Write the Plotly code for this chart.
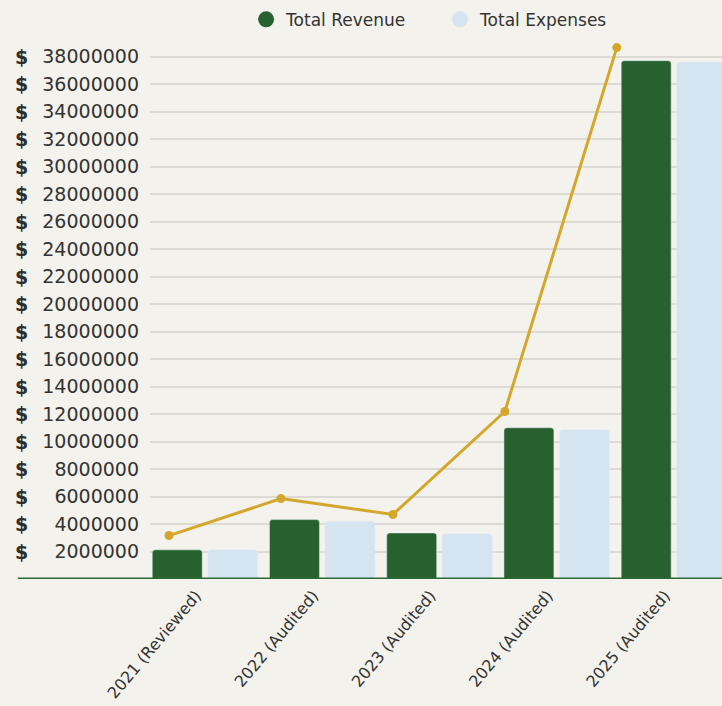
import plotly.graph_objects as go

categories = ["2021 (Reviewed)", "2022 (Audited)", "2023 (Audited)", "2024 (Audited)", "2025 (Audited)"]
total_revenue = [2.12e6, 4.32e6, 3.35e6, 11.0e6, 37.7e6]
total_expenses = [2.12e6, 4.2e6, 3.3e6, 10.85e6, 37.6e6]
trend_values = [3.16e6, 5.85e6, 4.69e6, 12.18e6, 38.65e6]
tick_values = [2e6 * i for i in range(1, 20)]
tick_labels = [str(int(v)) for v in tick_values]

GREEN = "#27612f"
BLUE = "#d4e4f0"
GOLD = "#d4a72c"
BG = "#f4f2ec"
TEXT = "#333333"
FONT = "DejaVu Sans"

fig = go.Figure()
fig.add_trace(go.Bar(x=categories, y=total_revenue, name="Total Revenue",
                     marker=dict(color=GREEN), showlegend=False))
fig.add_trace(go.Bar(x=categories, y=total_expenses, name="Total Expenses",
                     marker=dict(color=BLUE), showlegend=False))
fig.add_trace(go.Scatter(x=categories, y=trend_values, mode="lines+markers",
                         xaxis="x2", line=dict(color=GOLD, width=3),
                         marker=dict(color=GOLD, size=9), showlegend=False,
                         cliponaxis=False))
# legend entries (circle symbols)
fig.add_trace(go.Scatter(x=[None], y=[None], mode="markers", name="Total Revenue",
                         marker=dict(color=GREEN, size=20, symbol="circle")))
fig.add_trace(go.Scatter(x=[None], y=[None], mode="markers", name="Total Expenses",
                         marker=dict(color=BLUE, size=20, symbol="circle")))

annotations = [dict(text="$", x=-0.224, xref="paper", y=v, yref="y",
                    showarrow=False, xanchor="center", yanchor="middle",
                    font=dict(family=FONT, size=19, color="#2e2e2e", weight="bold"))
               for v in tick_values]

fig.update_layout(
    width=722, height=706,
    paper_bgcolor=BG, plot_bgcolor=BG,
    margin=dict(l=150, r=0, t=45, b=127),
    barmode="group", bargap=0.053, bargroupgap=0.1, barcornerradius=3,
    font=dict(family=FONT, color=TEXT),
    showlegend=True,
    legend=dict(orientation="h", x=0.168, xanchor="left", y=0.972, yref="container",
                yanchor="middle", font=dict(family=FONT, size=17, color=TEXT),
                bgcolor="rgba(0,0,0,0)", itemsizing="trace", entrywidth=149,
                entrywidthmode="pixels"),
    xaxis=dict(range=[-0.469, 4.41], showgrid=False, showline=False, zeroline=False,
               ticks="", tickangle=-50, ticklabelshift=-9, ticklabelstandoff=3,
               automargin=False,
               tickfont=dict(family=FONT, size=16, color=TEXT)),
    xaxis2=dict(overlaying="x", range=[-0.17, 4.94], visible=False,
                categoryorder="array", categoryarray=categories),
    yaxis=dict(range=[0, 38.84e6], tickvals=tick_values, ticktext=tick_labels,
               showgrid=True, gridcolor="#dddad3", gridwidth=1.5, zeroline=False,
               showline=False, ticks="", ticklabelstandoff=10, automargin=False,
               tickfont=dict(family=FONT, size=19, color=TEXT)),
    annotations=annotations,
    shapes=[dict(type="line", xref="paper", yref="y", x0=-0.231, x1=1, y0=0, y1=0,
                 line=dict(color="#2d6a36", width=3))],
)

fig.write_html("out.html", config={"displayModeBar": False},
               post_script="document.body.style.margin='0';document.body.style.background='#f4f2ec';")
